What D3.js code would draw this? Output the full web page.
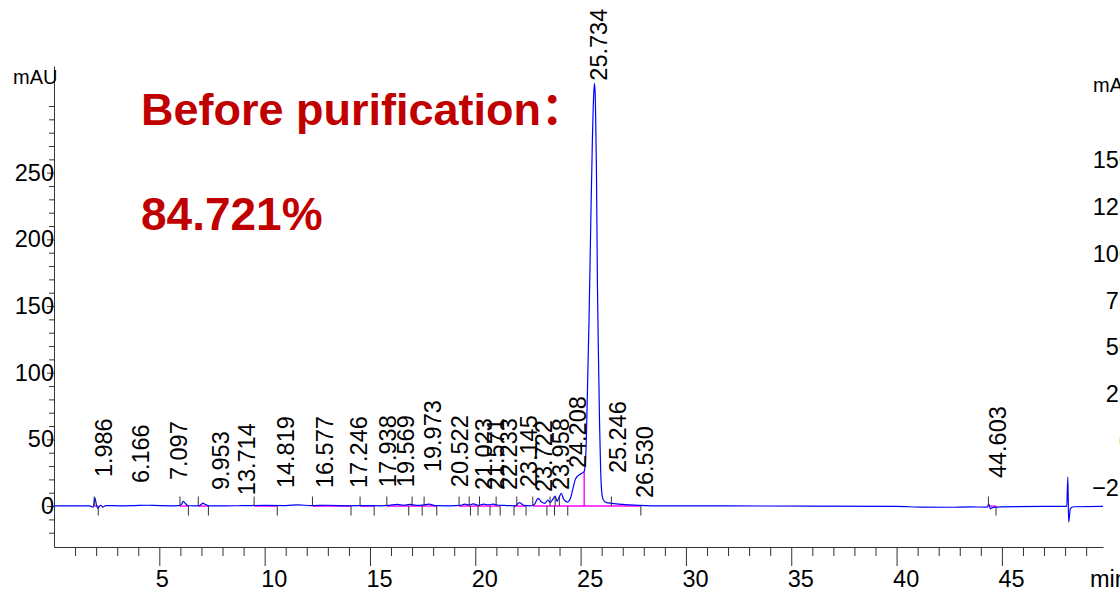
<!DOCTYPE html>
<html>
<head>
<meta charset="utf-8">
<script src="https://cdn.jsdelivr.net/npm/d3@7"></script>
<style>
  body { margin: 0; background: #fff; }
  svg { display: block; font-family: "Liberation Sans", Arial, sans-serif; }
  .axis path, .axis line { stroke: #333; }
  .axis text { fill: #000; font-size: 23.5px; }
</style>
</head>
<body>
<svg id="chart" width="1120" height="591"></svg>
<script>
// chromatogram trace (min, mAU)
const traceTime = [0, 1.0, 1.7, 1.85, 1.90, 1.93, 1.97, 2.02, 2.08, 2.14, 2.22, 2.32, 2.45, 2.7, 3.2, 3.8, 4.4, 5.0, 5.6, 5.95,
  6.05, 6.13, 6.22, 6.35, 6.6, 6.9, 7.0, 7.08, 7.18, 7.35, 8.0, 9.0, 10.0, 11.0, 11.6, 12.2, 13.0, 14.0, 14.8, 15.5,
  15.9, 16.3, 16.6, 16.9, 17.2, 17.5, 17.8, 18.1, 18.8, 19.3, 19.5, 19.7, 19.9, 20.15, 20.4, 20.6, 20.85, 21.1, 21.5, 21.9,
  22.1, 22.3, 22.6, 22.8, 22.98, 23.15, 23.3, 23.45, 23.55, 23.68, 23.79, 23.88, 23.98, 24.08, 24.2, 24.38, 24.52, 24.65, 24.75, 24.9,
  25.05, 25.17, 25.25, 25.33, 25.40, 25.48, 25.56, 25.62, 25.66, 25.70, 25.75, 25.80, 25.85, 25.90, 25.95, 26.00, 26.08, 26.2, 26.5, 27.0,
  27.8, 29, 32, 36, 40, 41.2, 42.5, 43.5, 44.3, 44.38, 44.45, 44.55, 45.0, 47.0, 48.08, 48.13, 48.17, 48.25, 48.4, 49.8];
const traceMAU = [0.2, 0.1, 0.1, -0.8, 2, 6.3, 4.5, 0.5, -1.8, -0.5, 0.6, -0.8, 0.4, 0.3, 0.2, 0.3, 0.6, 0.3, 0.2, 0.3,
  1.2, 3.6, 2.2, 0.4, 0.1, 0.3, 1.4, 2.2, 1.2, 0.2, 0.1, 0.3, 0.5, 0.4, 0.9, 0.3, 0.6, 0.2, 0.4, 0.2,
  0.5, 1.3, 0.6, 1.2, 0.5, 0.7, 1.5, 0.3, 0.2, 0.5, 1.4, 0.8, 1.6, 0.5, 1.4, 0.9, 1.4, 0.6, 0.4, 0.2,
  2.6, 0.5, 0.2, 1.2, 5.8, 3, 2, 4.5, 2.6, 5, 7.5, 3.5, 6.5, 9.5, 5, 3, 6, 14, 20, 23,
  24.5, 26, 40, 90, 140, 210, 275, 308, 317, 305, 255, 165, 110, 62, 28, 11, 4.5, 2.8, 2, 1.2,
  0.5, 0.1, 0.1, 0, -0.2, -0.8, -0.9, -0.6, -0.8, 1.5, -2, -1.2, -0.6, -0.3, -0.3, 21.7, -12, -2, -0.5, -0.3];

// peak labels and where they sit (min, mAU)
const peakLabels = ["1.986", "6.166", "7.097", "9.953", "13.714", "14.819", "16.577", "17.246", "17.938", "19.569", "19.973", "20.522",
  "21.023", "21.571", "22.233", "23.145", "23.722", "23.958", "24.208", "25.734", "25.246", "26.530", "44.603"];
const labelAt = [2.37, 4.13, 5.94, 7.93, 9.16, 11.02, 12.87, 14.48, 15.84, 16.70, 18.00, 19.28,
  20.42, 20.99, 21.60, 22.55, 23.27, 24.08, 24.88, 25.88, 26.78, 28.06, 44.82];
const labelFloor = [21.7, 17.2, 19.5, 12.0, 8.2, 13.5, 13.5, 13.5, 14.2, 14.2, 25.5, 14.2,
  12, 12, 12, 14.2, 10.5, 12, 28.5, 319, 24.7, 6, 21];

// integration event marks (min)
const startMarks = [1.91, 5.98, 6.85, 9.50, 12.27, 14.53, 15.80, 17.00, 17.57, 19.23, 19.71, 20.20, 20.99, 21.97, 22.73, 23.55, 23.79, 23.99, 26.46, 44.36];
const endMarks = [2.10, 6.38, 7.33, 10.60, 14.10, 15.20, 16.84, 17.48, 18.17, 19.77, 20.13, 20.70, 21.18, 21.84, 22.41, 23.40, 23.76, 24.39, 27.86, 44.72];

// integration baselines (min)
const integStart = [1.91, 5.98, 6.85, 9.50, 12.27, 14.53, 15.80, 16.84, 17.48, 19.23, 19.77, 20.13, 20.70, 21.84, 22.73, 44.36];
const integEnd = [2.10, 6.38, 7.33, 10.60, 14.10, 15.20, 16.84, 17.48, 18.17, 19.77, 20.13, 20.70, 21.18, 22.41, 27.86, 44.72];
const dropAt = 25.17, dropTop = 25.7;

const leftTicks = [0, 50, 100, 150, 200, 250];
const rightTicks = [150, 125, 100, 75, 50, 25, 0, -25];
const timeTicks = [5, 10, 15, 20, 25, 30, 35, 40, 45];

const titleLine1 = "Before purification：";
const titleLine2 = "84.721%";

const svg = d3.select("#chart");

let x = d3.scaleLinear().domain([0, 49.8]).range([54, 1103]);
let y = d3.scaleLinear().domain([-30.7, 330]).range([547, 66]);
let yR = d3.scaleLinear().domain([-25, 150]).range([488, 160]);

// left axis
let minorY = d3.range(-20, 301, 10).filter(v => v % 50 != 0 || v > 250);
svg.append("g")
  .attr("class", "axis")
  .attr("transform", "translate(54,0)")
  .call(d3.axisLeft(y).tickValues(minorY).tickSize(5).tickFormat(""))
  .call(g => g.select(".domain").remove());
svg.append("g")
  .attr("class", "axis")
  .attr("transform", "translate(54,0)")
  .call(d3.axisLeft(y).tickValues(leftTicks).tickSize(7).tickPadding(-7).tickSizeOuter(0));

// bottom axis
let minorX = d3.range(1, 50).filter(v => v % 5 != 0);
svg.append("g")
  .attr("class", "axis")
  .attr("transform", "translate(0,547)")
  .call(d3.axisBottom(x).tickValues(minorX).tickSize(9).tickFormat(""))
  .call(g => g.select(".domain").remove());
svg.append("g")
  .attr("class", "axis")
  .attr("transform", "translate(0,547)")
  .call(d3.axisBottom(x).tickValues(timeTicks).tickSize(19).tickPadding(4).tickSizeOuter(0))
  .call(g => g.selectAll("text").attr("text-anchor", "start").attr("x", -4));

// right axis (mostly off the page)
svg.append("g")
  .attr("class", "axis")
  .attr("transform", "translate(1138,0)")
  .call(d3.axisLeft(yR).tickValues(rightTicks).tickSize(0).tickPadding(6))
  .call(g => g.select(".domain").remove());

svg.append("text").attr("x", 13).attr("y", 84).attr("font-size", 20).text("mAU");
svg.append("text").attr("x", 1093).attr("y", 92).attr("font-size", 20).text("mAU");
svg.append("text").attr("x", 1090).attr("y", 587).attr("font-size", 23.5).text("min");

// integration baselines
svg.selectAll(".integ")
  .data(integStart)
  .enter().append("line")
  .attr("class", "integ")
  .attr("x1", d => x(d))
  .attr("x2", (d, i) => x(integEnd[i]))
  .attr("y1", y(0)).attr("y2", y(0))
  .attr("stroke", "#ff00ff").attr("stroke-width", 1.4);
svg.append("line")
  .attr("x1", x(dropAt)).attr("x2", x(dropAt))
  .attr("y1", y(0)).attr("y2", y(dropTop))
  .attr("stroke", "#ff00ff").attr("stroke-width", 1.4);

// trace
let trace = traceTime.map((t, i) => [t, traceMAU[i]]);
let line = d3.line()
  .x(d => x(d[0]))
  .y(d => y(d[1]))
  .curve(d3.curveMonotoneX);
svg.append("path")
  .datum(trace)
  .attr("d", line)
  .attr("fill", "none")
  .attr("stroke", "#0000ff")
  .attr("stroke-width", 1.2);

// event marks
svg.selectAll(".smark")
  .data(startMarks)
  .enter().append("line")
  .attr("x1", d => x(d)).attr("x2", d => x(d))
  .attr("y1", y(0)).attr("y2", y(0) - 9.5)
  .attr("stroke", "#333");
svg.selectAll(".emark")
  .data(endMarks)
  .enter().append("line")
  .attr("x1", d => x(d)).attr("x2", d => x(d))
  .attr("y1", y(0)).attr("y2", y(0) + 9.5)
  .attr("stroke", "#333");

// peak labels
svg.selectAll(".plabel")
  .data(peakLabels)
  .enter().append("text")
  .attr("class", "plabel")
  .attr("transform", (d, i) => "translate(" + x(labelAt[i]) + "," + y(labelFloor[i]) + ") rotate(-90)")
  .attr("dy", "0.35em")
  .attr("font-size", 23.5)
  .text(d => d);

// title
svg.append("text")
  .attr("x", 141).attr("y", 125)
  .attr("font-size", 45).attr("font-weight", "bold")
  .attr("fill", "#c00000")
  .style("font-family", "'Liberation Sans', 'Noto Sans CJK SC', sans-serif")
  .text(titleLine1);
svg.append("text")
  .attr("x", 141).attr("y", 230)
  .attr("font-size", 46).attr("font-weight", "bold")
  .attr("fill", "#c00000")
  .text(titleLine2);
</script>
</body>
</html>
